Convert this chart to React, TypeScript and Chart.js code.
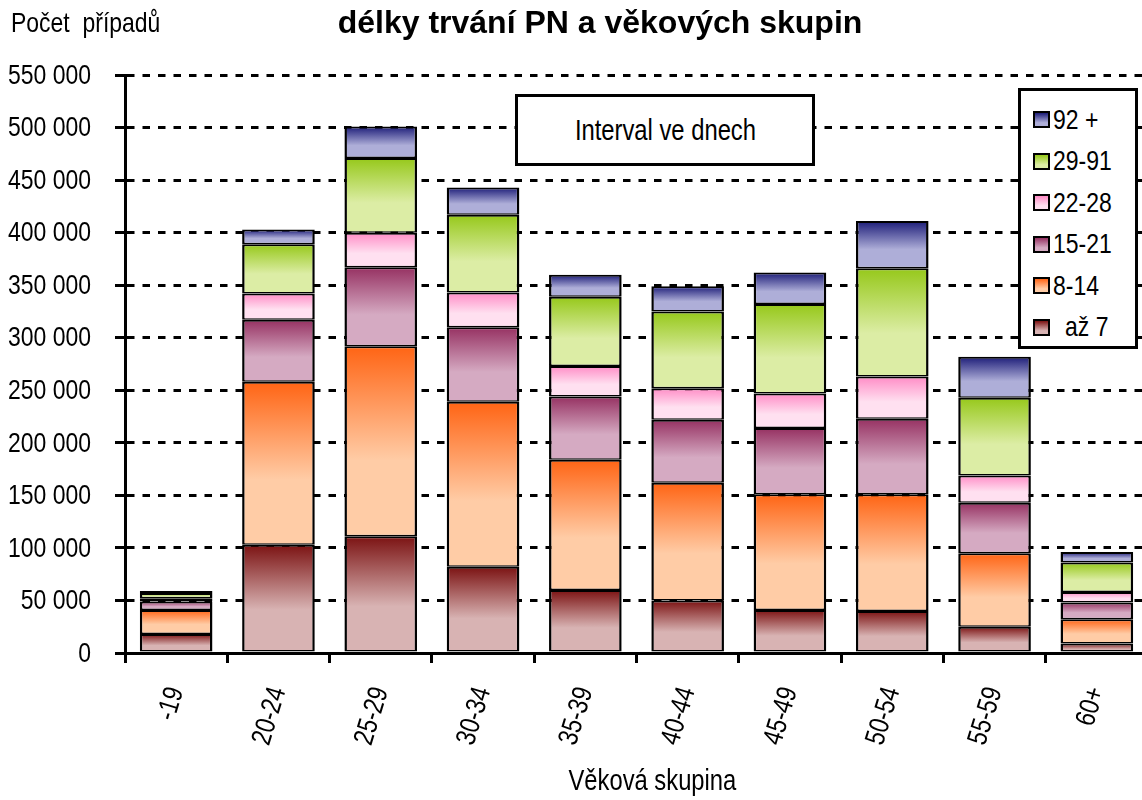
import React, { useEffect, useRef } from 'react';
import { Chart, registerables } from 'chart.js';

Chart.register(...registerables);

// ---- data ----
const categories = ['-19', '20-24', '25-29', '30-34', '35-39', '40-44', '45-49', '50-54', '55-59', '60+'];
const seriesNames = ['až 7', '8-14', '15-21', '22-28', '29-91', '92 +'];
const az7 = [18000, 103000, 111000, 82000, 60000, 50000, 41000, 40000, 25000, 9000];
const d8to14 = [23000, 155000, 181000, 157000, 124000, 112000, 110000, 111000, 70000, 23000];
const d15to21 = [8000, 59000, 75000, 71000, 60000, 60000, 63000, 72000, 48000, 16000];
const d22to28 = [3000, 25000, 33000, 33000, 29000, 30000, 33000, 40000, 26000, 10000];
const d29to91 = [5000, 47000, 71000, 74000, 66000, 73000, 85000, 103000, 74000, 28000];
const d92plus = [2000, 14000, 30000, 26000, 21000, 24000, 30000, 45000, 39000, 10000];
const seriesValues = [az7, d8to14, d15to21, d22to28, d29to91, d92plus];

const yMax = 550000;
const yStep = 50000;

// gradient colours (top -> bottom) per series
const topColors = ['#7B1212', '#FF6414', '#963162', '#FF8CC6', '#96C81A', '#1C1C78'];
const bottomColors = ['#D8B3B3', '#FFCCA6', '#D5AAC2', '#FFE0F0', '#DCEDA5', '#AEAED8'];

const SANS = '"Liberation Sans", Arial, sans-serif';
const NARROW_X = 0.82; // emulate Arial Narrow by horizontal compression
const LABEL_ROT = 73;

const fmt = (v: number) => {
  if (v === 0) return '0';
  const th = Math.floor(v / 1000);
  const rest = v % 1000;
  return `${th} ${String(rest).padStart(3, '0')}`;
};

const narrowLabels = {
  id: 'narrowLabels',
  afterDraw(chart: any) {
    const { ctx, scales } = chart;
    const x = scales.x;
    const y = scales.y;
    ctx.save();
    ctx.fillStyle = '#000';
    ctx.font = `28px ${SANS}`;
    ctx.textAlign = 'right';
    ctx.textBaseline = 'middle';
    y.ticks.forEach((t: any) => {
      const py = y.getPixelForValue(t.value);
      ctx.save();
      ctx.translate(y.right - 34, py + 1);
      ctx.scale(NARROW_X, 1);
      ctx.fillText(fmt(t.value), 0, 0);
      ctx.restore();
    });
    categories.forEach((lab, i) => {
      const px = x.getPixelForValue(i);
      ctx.save();
      ctx.translate(px, x.top + 35);
      ctx.rotate((-LABEL_ROT * Math.PI) / 180);
      ctx.scale(NARROW_X, 1);
      ctx.fillText(lab, 0, 0);
      ctx.restore();
    });
    ctx.restore();
  },
};

const Narrow = ({ children, origin = 'left center' }: { children: any; origin?: string }) => (
  <span style={{ display: 'inline-block', transform: `scaleX(${NARROW_X})`, transformOrigin: origin, whiteSpace: 'pre' }}>
    {children}
  </span>
);

export default function App() {
  const ref = useRef<HTMLCanvasElement | null>(null);

  useEffect(() => {
    if (!ref.current) return;
    const datasets = seriesValues.map((vals, di) => ({
      label: seriesNames[di],
      data: vals,
      borderColor: '#000',
      borderWidth: { top: 2, bottom: 1.5, left: 2.5, right: 2.5 },
      borderSkipped: false as const,
      backgroundColor: (c: any) => {
        const chart = c.chart;
        const ya = chart.scales && chart.scales.y;
        if (c.type !== 'data' || !ya) return bottomColors[di];
        const i = c.dataIndex;
        let start = 0;
        for (let k = 0; k < di; k++) start += seriesValues[k][i];
        const end = start + vals[i];
        const yTop = ya.getPixelForValue(end);
        const yBot = ya.getPixelForValue(start);
        if (!isFinite(yTop) || !isFinite(yBot) || yTop === yBot) return bottomColors[di];
        const g = chart.ctx.createLinearGradient(0, yTop, 0, yBot);
        g.addColorStop(0, topColors[di]);
        g.addColorStop(0.6, bottomColors[di]);
        g.addColorStop(1, bottomColors[di]);
        return g;
      },
      barPercentage: 0.71,
      categoryPercentage: 1,
    }));

    const chart = new Chart(ref.current, {
      type: 'bar',
      data: { labels: categories, datasets },
      plugins: [narrowLabels],
      options: {
        responsive: false,
        animation: false,
        devicePixelRatio: 1,
        layout: { padding: { top: 75, right: 12, left: 0, bottom: 0 } },
        plugins: {
          legend: { display: false },
          title: { display: false },
          tooltip: { enabled: false },
        },
        scales: {
          x: {
            stacked: true,
            offset: true,
            grid: {
              display: true,
              drawOnChartArea: false,
              drawTicks: true,
              tickLength: 10,
              tickWidth: 3,
              tickColor: '#000',
              offset: true,
            },
            border: { display: true, color: '#000', width: 3 },
            ticks: { display: false, autoSkip: false },
            afterFit: (s: any) => {
              s.height = 147;
            },
          },
          y: {
            stacked: true,
            min: 0,
            max: yMax,
            grid: {
              display: true,
              color: '#000',
              lineWidth: 3,
              drawTicks: true,
              tickLength: 10,
              tickWidth: 3,
              tickColor: '#000',
              tickBorderDash: [],
            },
            border: { display: true, color: '#000', width: 3, dash: [7.5, 8] },
            ticks: {
              display: false,
              stepSize: yStep,
            },
            afterFit: (s: any) => {
              s.width = 125;
            },
          },
        },
      },
    });
    return () => chart.destroy();
  }, []);

  const legendItems = seriesNames.map((n, i) => ({ name: n, i })).reverse();

  return (
    <div
      style={{
        position: 'fixed',
        left: 0,
        top: 0,
        width: 1142,
        height: 800,
        overflow: 'hidden',
        background: '#fff',
      }}
    >
      <canvas ref={ref} width={1160} height={800} style={{ position: 'absolute', left: 0, top: 0, width: 1160, height: 800 }} />
      <div
        style={{
          position: 'absolute',
          left: 11,
          top: 7,
          fontFamily: SANS,
          fontSize: 28,
          lineHeight: 'normal',
          color: '#000',
        }}
      >
        <Narrow>{'Počet  případů'}</Narrow>
      </div>
      <div
        style={{
          position: 'absolute',
          left: 250,
          width: 700,
          top: 4,
          textAlign: 'center',
          fontFamily: SANS,
          fontWeight: 'bold',
          fontSize: 32,
          color: '#000',
          whiteSpace: 'pre',
        }}
      >
        délky trvání PN a věkových skupin
      </div>
      <div
        style={{
          position: 'absolute',
          left: 452,
          width: 400,
          top: 764,
          textAlign: 'center',
          fontFamily: SANS,
          fontSize: 29,
          color: '#000',
        }}
      >
        <Narrow origin="center center">Věková skupina</Narrow>
      </div>
      <div
        style={{
          position: 'absolute',
          left: 515,
          top: 94,
          width: 300,
          height: 72,
          boxSizing: 'border-box',
          border: '3px solid #000',
          background: '#fff',
          display: 'flex',
          alignItems: 'center',
          justifyContent: 'center',
          fontFamily: SANS,
          fontSize: 29,
          color: '#000',
        }}
      >
        <Narrow origin="center center">Interval ve dnech</Narrow>
      </div>
      <div
        style={{
          position: 'absolute',
          left: 1018,
          top: 88,
          width: 120,
          height: 261,
          boxSizing: 'border-box',
          border: '3px solid #000',
          background: '#fff',
          paddingTop: 8,
        }}
      >
        {legendItems.map((it) => (
          <div
            key={it.name}
            style={{
              display: 'flex',
              alignItems: 'center',
              height: 41.5,
              fontFamily: SANS,
              fontSize: 28,
              color: '#000',
            }}
          >
            <span
              style={{
                display: 'inline-block',
                flex: '0 0 auto',
                width: 17,
                height: 17,
                marginLeft: 12,
                marginRight: it.name === 'až 7' ? 15 : 3,
                boxSizing: 'border-box',
                border: '2px solid #000',
                background: `linear-gradient(to bottom, ${topColors[it.i]} 0%, ${bottomColors[it.i]} 75%)`,
              }}
            />
            <Narrow>{it.name}</Narrow>
          </div>
        ))}
      </div>
    </div>
  );
}
